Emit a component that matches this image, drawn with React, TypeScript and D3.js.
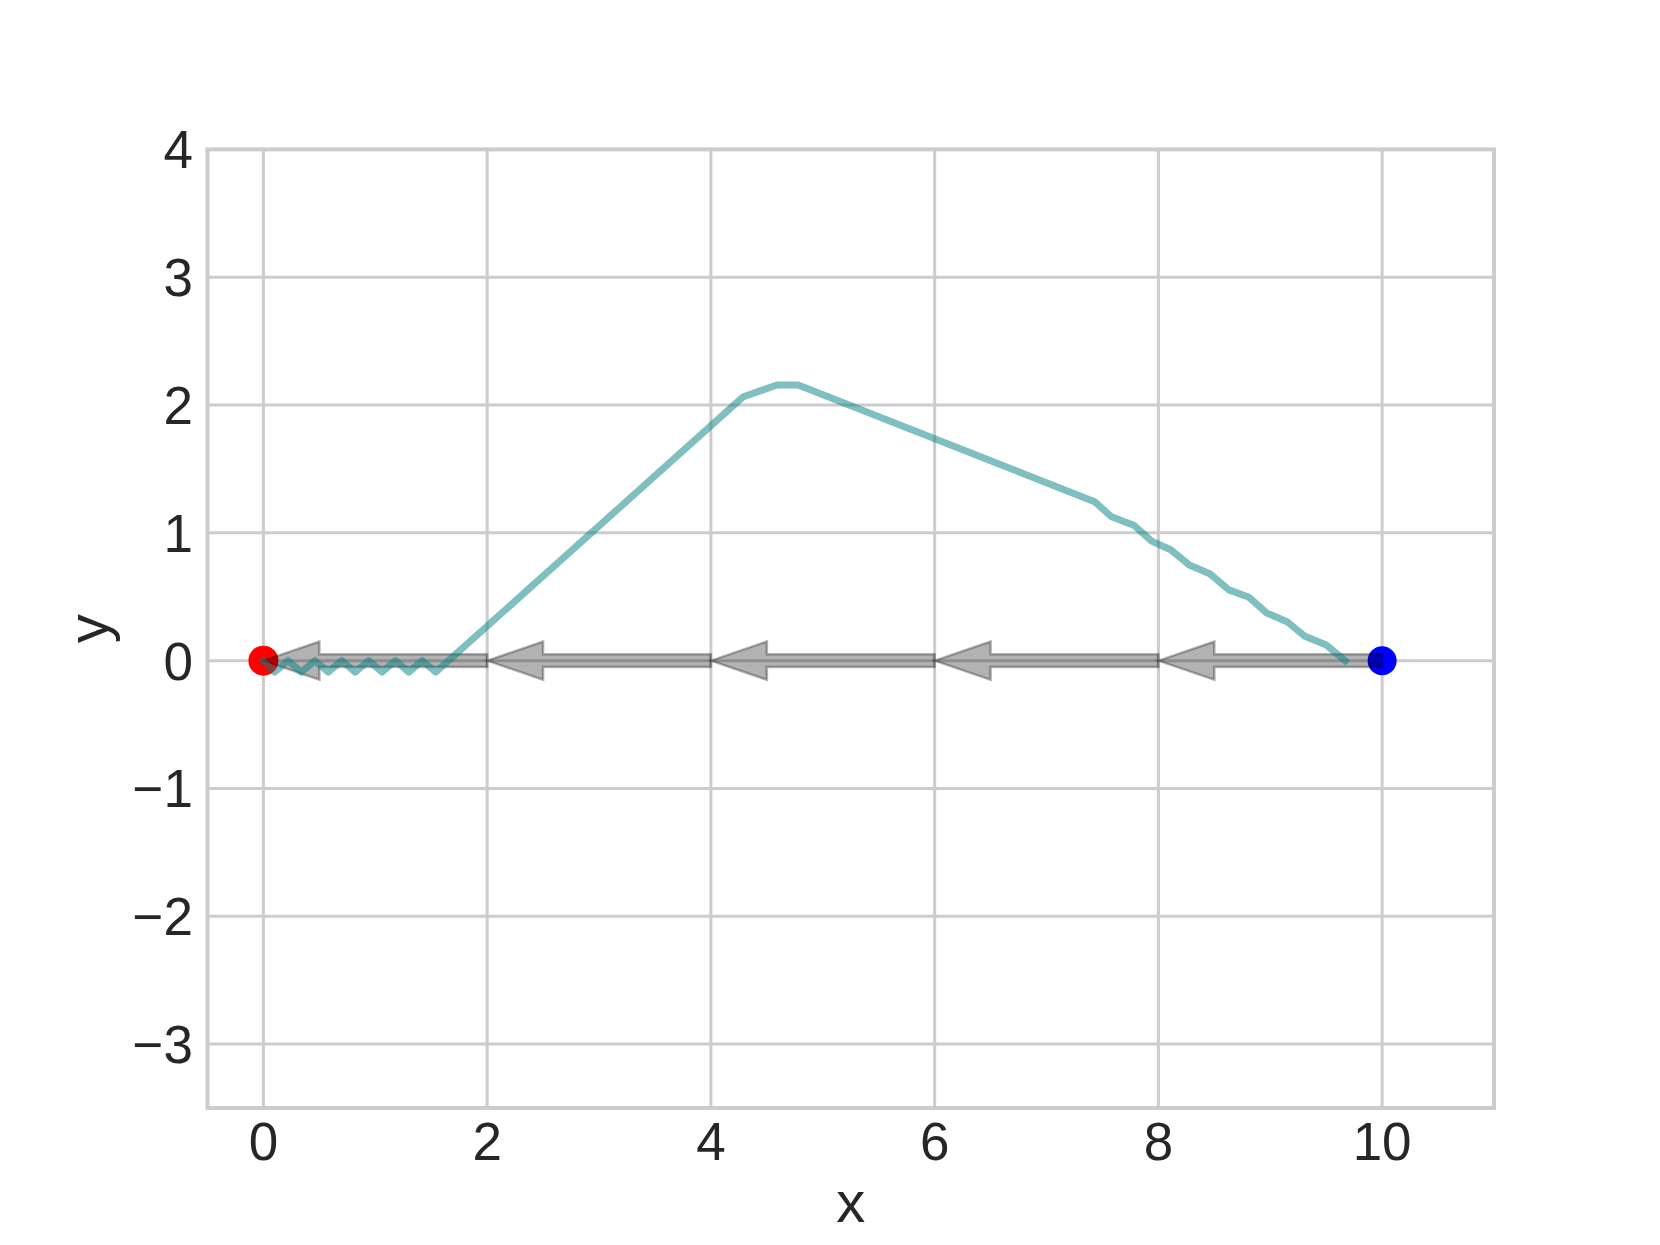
import React from "react";
import * as d3 from "d3";

const xTicks = [0, 2, 4, 6, 8, 10];
const yTicks = [-3, -2, -1, 0, 1, 2, 3, 4];
const xDomain = [-0.5, 11];
const yDomain = [-3.5, 4];

// trajectory line
const pathX = [9.67, 9.5, 9.31, 9.15, 8.97, 8.81, 8.63, 8.46, 8.28, 8.11, 7.94, 7.78, 7.58, 7.43, 4.78, 4.59, 4.29, 1.54, 1.42, 1.3, 1.18, 1.06, 0.94, 0.82, 0.7, 0.58, 0.46, 0.34, 0.22, 0.1, 0.0];
const pathY = [0.0, 0.123, 0.19, 0.305, 0.372, 0.496, 0.554, 0.68, 0.746, 0.868, 0.935, 1.06, 1.126, 1.244, 2.157, 2.157, 2.065, -0.09, 0, -0.09, 0, -0.09, 0, -0.09, 0, -0.09, 0, -0.09, 0, -0.09, 0];

// arrows (start -> end)
const arrowStartX = [10, 8, 6, 4, 2];
const arrowEndX = [8, 6, 4, 2, 0];
const arrowY = [0, 0, 0, 0, 0];
const arrowWidth = 0.1;
const arrowHeadWidth = 0.3;
const arrowHeadLength = 0.5;

// endpoints
const startPoint = { x: 10, y: 0, color: "#0000ff" };
const endPoint = { x: 0, y: 0, color: "#ff0000" };

const W = 1660;
const H = 1245;
const left = 207.5;
const right = 1494;
const top = 149.4;
const bottom = 1108;

export default function App() {
  const x = d3.scaleLinear().domain(xDomain).range([left, right]);
  const y = d3.scaleLinear().domain(yDomain).range([bottom, top]);

  const line = d3
    .line<number>()
    .x((_, i) => x(pathX[i]))
    .y((_, i) => y(pathY[i]));

  const arrowPolys = arrowStartX.map((sx, i) => {
    const ex = arrowEndX[i];
    const yy = arrowY[i];
    const dir = Math.sign(ex - sx);
    const bx = ex - dir * arrowHeadLength;
    const pts: [number, number][] = [
      [ex, yy],
      [bx, yy - arrowHeadWidth / 2],
      [bx, yy - arrowWidth / 2],
      [sx, yy - arrowWidth / 2],
      [sx, yy + arrowWidth / 2],
      [bx, yy + arrowWidth / 2],
      [bx, yy + arrowHeadWidth / 2],
    ];
    return pts.map((p) => `${x(p[0])},${y(p[1])}`).join(" ");
  });

  const font = "'Liberation Sans', Arial, 'DejaVu Sans', sans-serif";
  const textColor = "#262626";
  const gridColor = "#cccccc";

  return (
    <div style={{ position: "absolute", left: 0, top: 0 }}>
      <svg width={W} height={H} style={{ display: "block", background: "#fff" }}>
        <rect x={0} y={0} width={W} height={H} fill="#fff" />
        {/* grid */}
        {xTicks.map((t) => (
          <line key={"gx" + t} x1={x(t)} x2={x(t)} y1={top} y2={bottom} stroke={gridColor} strokeWidth={3} />
        ))}
        {yTicks.map((t) => (
          <line key={"gy" + t} x1={left} x2={right} y1={y(t)} y2={y(t)} stroke={gridColor} strokeWidth={3} />
        ))}
        {/* frame */}
        <rect x={left} y={top} width={right - left} height={bottom - top} fill="none" stroke={gridColor} strokeWidth={4} />

        {/* points */}
        <circle cx={x(endPoint.x)} cy={y(endPoint.y)} r={15} fill={endPoint.color} />
        <circle cx={x(startPoint.x)} cy={y(startPoint.y)} r={14.5} fill={startPoint.color} />

        {/* arrows */}
        {arrowPolys.map((p, i) => (
          <polygon key={"a" + i} points={p} fill="#000" fillOpacity={0.3} stroke="#000" strokeOpacity={0.3} strokeWidth={2.5} strokeLinejoin="miter" />
        ))}

        {/* trajectory */}
        <path d={line(pathX) || ""} fill="none" stroke="#008080" strokeOpacity={0.5} strokeWidth={7} strokeLinejoin="round" strokeLinecap="square" />

        {/* tick labels */}
        {xTicks.map((t) => (
          <text key={"tx" + t} x={x(t)} y={1160} textAnchor="middle" fontFamily={font} fontSize={53} fill={textColor}>
            {t < 0 ? "\u2212" + Math.abs(t) : String(t)}
          </text>
        ))}
        {yTicks.map((t) => (
          <text key={"ty" + t} x={193} y={y(t) + 19} textAnchor="end" fontFamily={font} fontSize={53} fill={textColor}>
            {t < 0 ? "\u2212" + Math.abs(t) : String(t)}
          </text>
        ))}

        {/* axis labels */}
        <text x={(left + right) / 2} y={1222} textAnchor="middle" fontFamily={font} fontSize={58} fill={textColor}>
          x
        </text>
        <text transform={`translate(108, ${(top + bottom) / 2}) rotate(-90)`} textAnchor="middle" fontFamily={font} fontSize={58} fill={textColor}>
          y
        </text>
      </svg>
    </div>
  );
}
